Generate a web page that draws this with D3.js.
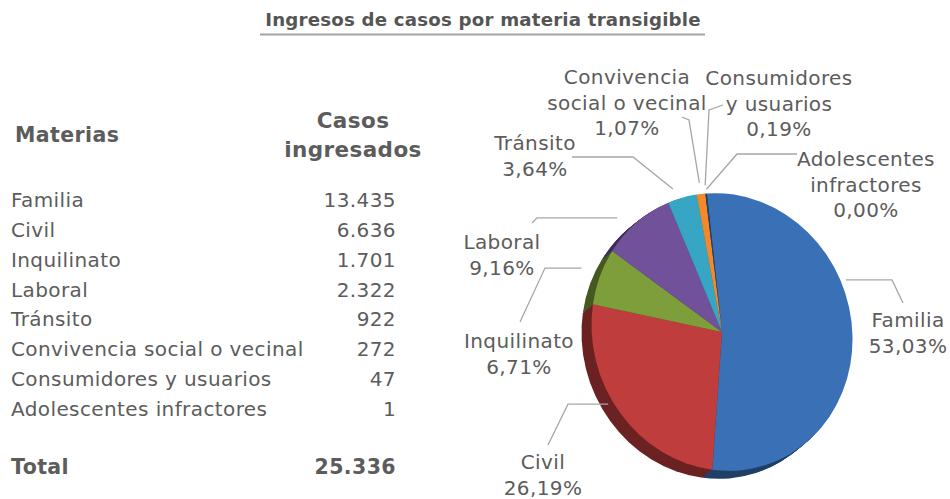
<!DOCTYPE html>
<html>
<head>
<meta charset="utf-8">
<script src="https://cdn.jsdelivr.net/npm/d3@7"></script>
<style>
  body { margin: 0; background: #fff; }
  text { font-family: "DejaVu Sans", sans-serif; fill: #5c5c5c; letter-spacing: 0.4px; }
</style>
</head>
<body>
<script>
// data
const titulo = "Ingresos de casos por materia transigible";
const materias = ["Familia", "Civil", "Inquilinato", "Laboral", "Tránsito",
  "Convivencia social o vecinal", "Consumidores y usuarios", "Adolescentes infractores"];
const casos = [13435, 6636, 1701, 2322, 922, 272, 47, 1];
const etiquetas = [["Familia"], ["Civil"], ["Inquilinato"], ["Laboral"], ["Tránsito"],
  ["Convivencia", "social o vecinal"], ["Consumidores", "y usuarios"], ["Adolescentes", "infractores"]];
const colores = ["#3a71b6", "#bf3d3d", "#7e9e3c", "#70519a", "#37a5c4", "#f28a2c", "#24406b", "#2c4d75"];

// label placement (center of first line, leader anchor/elbow, point inside slice)
const layout = [
  {lx: 908, ly: 320, ax: 903, ay: 303, ex: 892, t: 0.38, rf: 1.04},
  {lx: 543, ly: 462, ax: 548, ay: 445, ex: 568, t: 0.56, rf: 1.04},
  {lx: 519, ly: 341, ax: 520, ay: 322, ex: 545, t: 0.5, rf: 1.15},
  {lx: 502, ly: 242, ax: 532, ay: 223, ex: 537, t: 0.35, rf: 1.12},
  {lx: 535, ly: 143, ax: 572, ay: 157, ex: 633, ey: 157, t: 0.3, rf: 1.08},
  {lx: 627, ly: 77, ax: 682, ay: 117, ex: 689, ey: 120, t: 0.5, rf: 1.08},
  {lx: 779, ly: 78, ax: 723, ay: 105, ex: 709, ey: 110, t: 0.5, rf: 1.06},
  {lx: 866, ly: 159, ax: 797, ay: 154, ex: 737, ey: 154, t: 0.5, rf: 1.03}
];

const W = 950, H = 499;
const loc = d3.formatLocale({decimal: ",", thousands: ".", grouping: [3], currency: ["$", ""]});
const fmtN = loc.format(",d");
const fmtP = loc.format(".2f");
const total = d3.sum(casos);

const svg = d3.select("body").append("svg")
  .attr("width", W).attr("height", H);

// title
svg.append("text")
  .attr("x", 483).attr("y", 26)
  .attr("text-anchor", "middle")
  .attr("font-size", 18.2).attr("font-weight", "bold")
  .style("fill", "#555").style("letter-spacing", "0.2px")
  .text(titulo);
svg.append("line")
  .attr("x1", 260).attr("x2", 705).attr("y1", 34.5).attr("y2", 34.5)
  .attr("stroke", "#a3a3a3").attr("stroke-width", 2);

// table
const fs = 20;
const y = d3.scalePoint().domain(materias).range([207, 416]);
const tabla = svg.append("g").attr("font-size", fs);
tabla.append("text").attr("x", 15).attr("y", 142)
  .attr("font-weight", "bold").attr("font-size", 20.5).text("Materias");
tabla.append("text").attr("x", 353).attr("y", 128).attr("text-anchor", "middle")
  .attr("font-weight", "bold").attr("font-size", 21.5).text("Casos");
tabla.append("text").attr("x", 353).attr("y", 157).attr("text-anchor", "middle")
  .attr("font-weight", "bold").attr("font-size", 21.5).text("ingresados");

tabla.selectAll(".nombre").data(materias).join("text")
  .attr("class", "nombre")
  .attr("x", 11).attr("y", d => y(d))
  .text(d => d);
tabla.selectAll(".valor").data(casos).join("text")
  .attr("class", "valor")
  .attr("x", 396).attr("y", (d, i) => y(materias[i]))
  .attr("text-anchor", "end")
  .text(d => fmtN(d));

tabla.append("text").attr("x", 11).attr("y", 474)
  .attr("font-weight", "bold").attr("font-size", 20.5).text("Total");
tabla.append("text").attr("x", 396).attr("y", 474).attr("text-anchor", "end")
  .attr("font-weight", "bold").attr("font-size", 20.5).text(fmtN(total));

// pie
const cx = 722, cy = 332, R = 136, rot = -20, sx = 0.95, sy = 1.03;
const pie = d3.pie().sort(null).startAngle(0.26).endAngle(0.26 + 2 * Math.PI);
const arcs = pie(casos);
const arc = d3.arc().innerRadius(0).outerRadius(R);

function screen(a, r) {
  const px = r * Math.sin(a) * sx, py = -r * Math.cos(a) * sy;
  const th = rot * Math.PI / 180;
  return [cx + px * Math.cos(th) - py * Math.sin(th), cy + px * Math.sin(th) + py * Math.cos(th)];
}

const depth = 10, ddx = -10, ddy = 8;
for (let k = depth; k >= 1; k--) {
  svg.append("g")
    .attr("transform", `translate(${cx + ddx * k / depth},${cy + ddy * k / depth}) rotate(${rot}) scale(${sx},${sy})`)
    .selectAll("path").data(arcs).join("path")
    .attr("d", arc)
    .attr("fill", (d, i) => d3.color(colores[i]).darker(1.6));
}
svg.append("g")
  .attr("transform", `translate(${cx},${cy}) rotate(${rot}) scale(${sx},${sy})`)
  .selectAll("path").data(arcs).join("path")
  .attr("d", arc)
  .attr("fill", (d, i) => colores[i]);

// leader lines and labels
const lineas = svg.append("g");
arcs.forEach((d, i) => {
  const L = layout[i];
  const a = d.startAngle + L.t * (d.endAngle - d.startAngle);
  const end = screen(a, R * L.rf);
  const elbow = [L.ex, L.ey != null ? L.ey : end[1]];
  lineas.append("path")
    .attr("d", d3.line()([[L.ax, L.ay], elbow, end]))
    .attr("fill", "none").attr("stroke", "#a6a6a6").attr("stroke-width", 1.3);

  const lines = etiquetas[i].concat([fmtP(casos[i] / total * 100) + "%"]);
  svg.append("g").selectAll("text").data(lines).join("text")
    .attr("x", L.lx).attr("y", (t, j) => L.ly + 7 + j * 25.5)
    .attr("text-anchor", "middle")
    .attr("font-size", fs)
    .text(t => t);
});
</script>
</body>
</html>
